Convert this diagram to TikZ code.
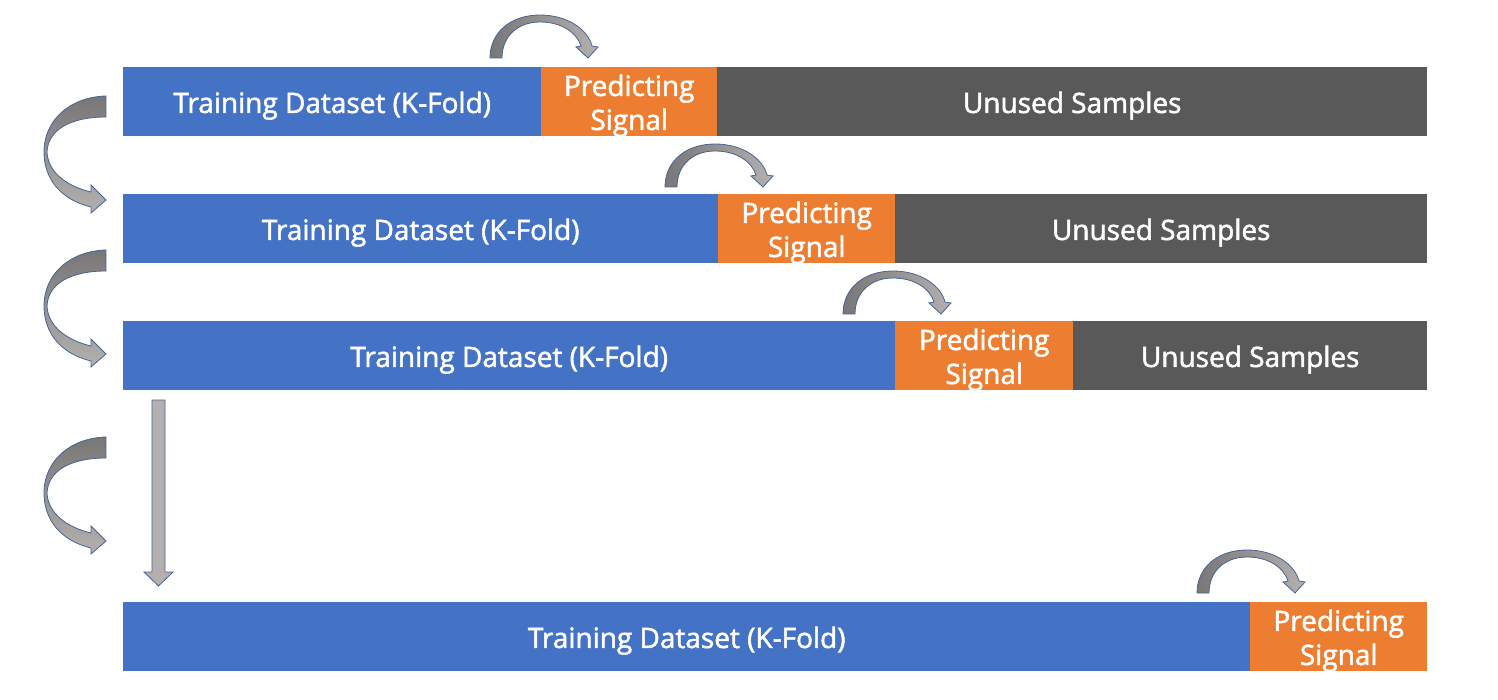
\documentclass[tikz,border=0pt]{standalone}
\usepackage{fontspec}
\setmainfont{Open Sans}
\newfontfamily\labfont{Open Sans}[FakeBold=1.8]
\definecolor{cblue}{RGB}{68,114,196}
\definecolor{corange}{RGB}{237,125,49}
\definecolor{cgray}{RGB}{89,89,89}
\definecolor{adark}{RGB}{120,118,118}
\definecolor{alight}{RGB}{180,176,176}
\definecolor{aedge}{RGB}{70,100,150}
\begin{document}
\begin{tikzpicture}[x=1pt,y=-1pt,
  seg/.style={anchor=north west,inner sep=0pt,minimum height=69pt},
  tr/.style={seg,fill=cblue},
  pr/.style={seg,fill=corange},
  un/.style={seg,fill=cgray},
  lbl/.style={text=white,inner sep=0pt,align=center,yshift=-4pt,
    font=\labfont\fontsize{28}{34}\selectfont},
  bigarrow/.style={draw=aedge,line width=0.8pt,top color=adark,bottom color=alight},
  smallarrow/.style={draw=aedge,line width=0.8pt,left color=adark,right color=alight},
  downarrow/.style={draw=aedge,line width=0.8pt,fill=alight}]
\useasboundingbox (0,0) rectangle (1498,700);
% row 1
\node[tr,minimum width=418pt] (t1) at (123,67) {};
\node[pr,minimum width=176pt] (p1) at (541,67) {};
\node[un,minimum width=710pt] (u1) at (717,67) {};
% row 2
\node[tr,minimum width=595pt] (t2) at (123,194) {};
\node[pr,minimum width=177pt] (p2) at (718,194) {};
\node[un,minimum width=532pt] (u2) at (895,194) {};
% row 3
\node[tr,minimum width=772pt] (t3) at (123,321) {};
\node[pr,minimum width=178pt] (p3) at (895,321) {};
\node[un,minimum width=354pt] (u3) at (1073,321) {};
% row 4
\node[tr,minimum width=1127pt] (t4) at (123,602) {};
\node[pr,minimum width=177pt] (p4) at (1250,602) {};
% labels
\foreach \n in {1,2,3,4}{
  \node[lbl] (t\n l) at (t\n.center) {Training Dataset (K-Fold)};
  \node[lbl] (p\n l) at (p\n.center) {Predicting\\Signal};
}
\foreach \n in {1,2,3}{
  \node[lbl] (u\n l) at (u\n.center) {Unused Samples};
}
% left curved arrows
\foreach \dy in {0,154,341}{
  \path[bigarrow,shift={(0,\dy)}] (106,96)
    .. controls (70,97) and (44,120) .. (44,152)
    .. controls (44,180) and (62,200) .. (91,207)
    -- (91,213) -- (106,200) -- (91,185) -- (91,192)
    .. controls (66,186) and (48,172) .. (47,152)
    .. controls (48,130) and (70,117) .. (106,117) -- cycle;
}
% small arcs above rows
\foreach \x/\y in {490/58,665/187,843/314,1197/593}{
  \path[smallarrow,shift={(\x,\y)}] (0,0)
    .. controls (0,-25) and (20,-43) .. (50,-43)
    .. controls (78,-43) and (98,-28) .. (102,-12)
    -- (108,-11) -- (98,0) -- (86,-11) -- (91,-12)
    .. controls (87,-25) and (72,-36) .. (50,-36)
    .. controls (28,-36) and (12,-22) .. (12,0) -- cycle;
}
% vertical arrow
\path[downarrow] (152,400) -- (165,400) -- (165,572) -- (173,572) -- (158.5,586)
  -- (144,572) -- (152,572) -- cycle;
\end{tikzpicture}
\end{document}
